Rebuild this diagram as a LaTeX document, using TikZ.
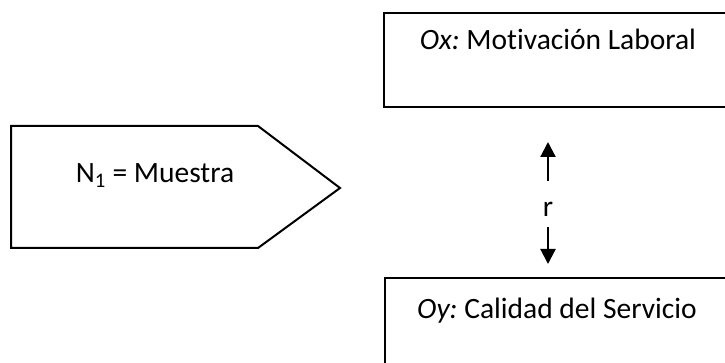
\documentclass[tikz,border=0pt]{standalone}
\usepackage{fontspec}
\setmainfont[Ligatures=CommonOff]{Carlito}
\usetikzlibrary{arrows.meta}
\begin{document}
\begin{tikzpicture}[x=1pt,y=-1pt,
  box/.style={draw=black,line width=2pt,fill=none},
  txt/.style={anchor=base,inner sep=0pt,font=\fontsize{29.5}{35}\selectfont},
  arr/.style={line width=2.2pt,-{Triangle[width=15pt,length=15pt]}}]
\useasboundingbox (0,0) rectangle (725,363);
\clip (0,0) rectangle (725,363);
% sample pentagon
\coordinate (p1) at (11,126);
\coordinate (p2) at (258,126);
\coordinate (p3) at (340,188);
\coordinate (p4) at (258,248);
\coordinate (p5) at (11,248);
\draw[box,line join=miter] (p1) -- (p2) -- (p3) -- (p4) -- (p5) -- cycle;
\node[txt] (n1) at (155,183) {N\textsubscript{1} = Muestra};
% Ox box
\node[box,anchor=north west,minimum width=370pt,minimum height=94pt,inner sep=0pt] (ox) at (383,12) {};
\node[txt] (oxt) at (558,50) {{\itshape Ox:}\ Motivación Laboral};
% Oy box
\node[box,anchor=north west,minimum width=370pt,minimum height=120pt,inner sep=0pt] (oy) at (384,277) {};
\node[txt] (oyt) at (557,318) {{\itshape Oy:}\ Calidad del Servicio};
% r and arrows
\node[txt] (r) at (548,217) {r};
\coordinate (a1) at (548,181);
\coordinate (a2) at (548,142);
\coordinate (b1) at (548,227);
\coordinate (b2) at (548,264);
\draw[arr] (a1) -- (a2);
\draw[arr] (b1) -- (b2);
\end{tikzpicture}
\end{document}
